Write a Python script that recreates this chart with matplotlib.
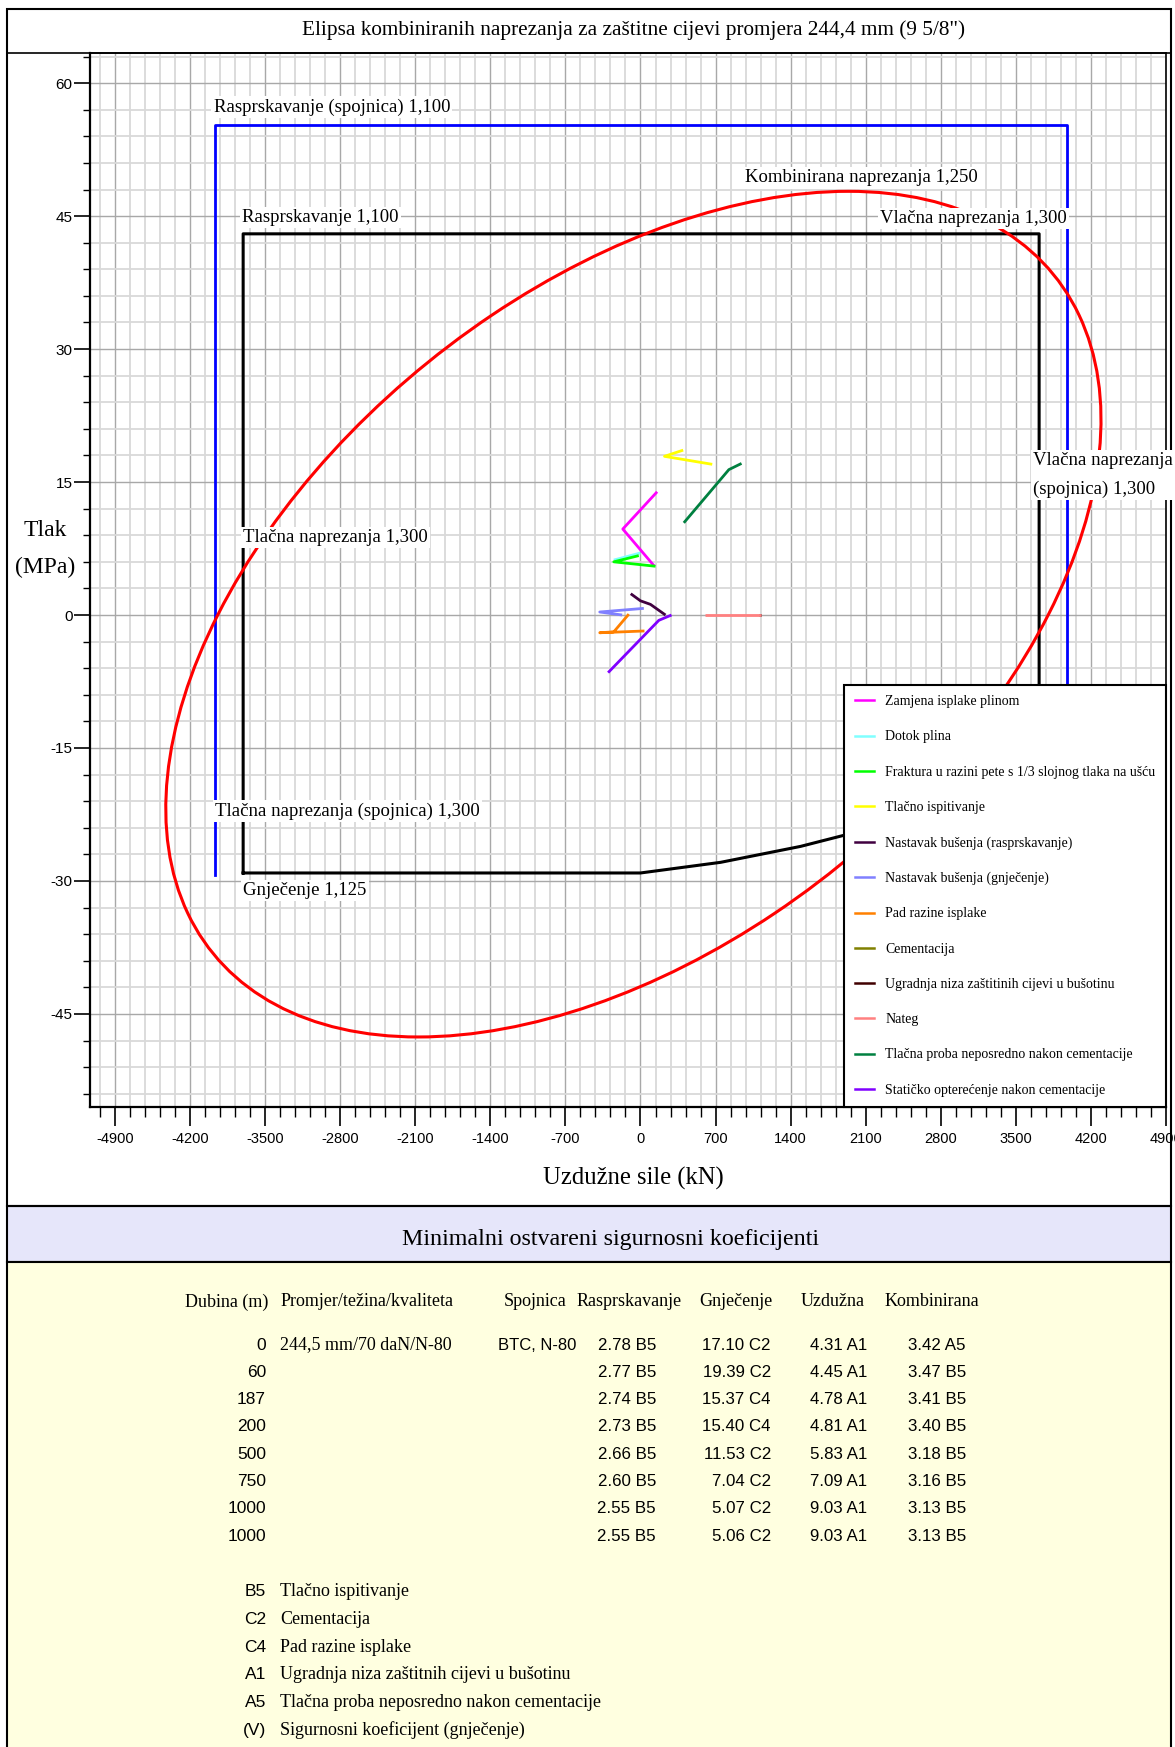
import numpy as np
import matplotlib
matplotlib.use("Agg")
import matplotlib.pyplot as plt
from matplotlib.patches import Rectangle, Circle
from matplotlib.lines import Line2D
from matplotlib.transforms import Affine2D
from matplotlib.ticker import MultipleLocator

SERIF = ["Liberation Serif", "DejaVu Serif"]
SANS = ["Liberation Sans", "DejaVu Sans"]
plt.rcParams["font.family"] = SANS

W, H = 1175, 1747

# ---- chart data (kN, MPa) ----
x_ticks = [-4900, -4200, -3500, -2800, -2100, -1400, -700, 0, 700, 1400, 2100, 2800, 3500, 4200, 4900]
y_ticks = [-45, -30, -15, 0, 15, 30, 45, 60]

# burst / tension limits of the coupling (blue)
coupling_kn = [-3967, -3967, 3973, 3973]
coupling_mpa = [-29.3, 55.3, 55.3, -29.3]

# pipe body limits (black): burst, tension, collapse
pipe_kn = [-3705, -3705, 3717, 3717, 3100, 2500, 1913, 1493, 747, 0, -3705]
pipe_mpa = [-29.1, 43.0, 43.0, -15.5, -19.3, -22.3, -24.8, -26.1, -27.9, -29.1, -29.1]

# points (an ellipse is fitted through them)
ellipse_kn = [4284, 4262, 4216, 3964, 3715, 3305, 2575, 1862, 1221, 509, 10, 93, -560, -716, -1223,
              -3173, -3360, -3733, -3967, -4231, -4387, -4449, -4418, -4293,
              -2924, -2240, -2053, 1338, 1773, 1913, 3469, 3484, 3717, 3864, 3982, 4107, 4200]
ellipse_mpa = [20.9, 24.2, 26.5, 35.9, 39.3, 43.0, 46.8, 47.5, 47.0, 45.3, 43.0, 43.6, 40.0, 39.1, 35.9,
               13.9, 10.3, 3.2, -2.45, -9.2, -15.6, -22.8, -28.8, -34.0,
               -46.8, -47.55, -47.4, -32.1, -28.4, -26.9, -7.3, -7.1, -2.8, 0.0, 3.2, 7.7, 11.5]

load_labels = [
    "Zamjena isplake plinom",
    "Dotok plina",
    "Fraktura u razini pete s 1/3 slojnog tlaka na ušću",
    "Tlačno ispitivanje",
    "Nastavak bušenja (rasprskavanje)",
    "Nastavak bušenja (gnječenje)",
    "Pad razine isplake",
    "Cementacija",
    "Ugradnja niza zaštitinih cijevi u bušotinu",
    "Nateg",
    "Tlačna proba neposredno nakon cementacije",
    "Statičko opterećenje nakon cementacije",
]
load_kn = [
    [155, -165, 130],
    [-249, -1],
    [140, -249, -16],
    [669, 224, 398],
    [-91, 0, 93, 233],
    [31, -380, -171],
    [37, -380, -249, -109],
    [],
    [1104, 1120],
    [597, 1120],
    [404, 824, 942],
    [-302, 171, 289],
]
load_mpa = [
    [13.9, 9.7, 5.5],
    [6.2, 7.0],
    [5.5, 6.0, 6.7],
    [17.0, 17.9, 18.6],
    [2.4, 1.6, 1.2, 0.0],
    [0.75, 0.34, 0.0],
    [-1.8, -2.0, -1.9, 0.1],
    [],
    [0.0, 0.0],
    [0.0, 0.0],
    [10.4, 16.4, 17.1],
    [-6.5, -0.6, 0.0],
]
load_colors = ["#ff00ff", "#80ffff", "#00ff00", "#ffff00", "#400040", "#8080ff",
               "#ff8000", "#808000", "#400000", "#ff8080", "#008040", "#8000ff"]

chart_labels = [
    "Rasprskavanje (spojnica) 1,100",
    "Rasprskavanje 1,100",
    "Kombinirana naprezanja 1,250",
    "Vlačna naprezanja 1,300",
    "Vlačna naprezanja\n(spojnica) 1,300",
    "Tlačna naprezanja 1,300",
    "Tlačna naprezanja (spojnica) 1,300",
    "Gnječenje 1,125",
]
chart_label_kn = [-3981, -3715, 976, 2231, 3659, -3705, -3967, -3705]
chart_label_mpa = [57.3, 44.8, 49.3, 44.7, 15.8, 8.7, -22.1, -31.1]

# ---- safety factor table ----
depths = [0, 60, 187, 200, 500, 750, 1000, 1000]
burst_sf = [2.78, 2.77, 2.74, 2.73, 2.66, 2.60, 2.55, 2.55]
burst_case = ["B5"] * 8
collapse_sf = [17.10, 19.39, 15.37, 15.40, 11.53, 7.04, 5.07, 5.06]
collapse_case = ["C2", "C2", "C4", "C4", "C2", "C2", "C2", "C2"]
axial_sf = [4.31, 4.45, 4.78, 4.81, 5.83, 7.09, 9.03, 9.03]
axial_case = ["A1"] * 8
combined_sf = [3.42, 3.47, 3.41, 3.40, 3.18, 3.16, 3.13, 3.13]
combined_case = ["A5", "B5", "B5", "B5", "B5", "B5", "B5", "B5"]
pipe_desc = "244,5 mm/70 daN/N-80"
coupling_desc = "BTC, N-80"

case_codes = ["B5", "C2", "C4", "A1", "A5", "(V)"]
case_names = [
    "Tlačno ispitivanje",
    "Cementacija",
    "Pad razine isplake",
    "Ugradnja niza zaštitnih cijevi u bušotinu",
    "Tlačna proba neposredno nakon cementacije",
    "Sigurnosni koeficijent (gnječenje)",
]


def fx(px):
    return px / W


def fy(py):
    return 1 - py / H


def ellipse_transform(kn, mpa):
    """Least squares conic through the read points, as an affine map of the unit circle."""
    u = np.asarray(kn) / 1000.0
    v = np.asarray(mpa) / 10.0
    design = np.column_stack([u * u, u * v, v * v, u, v])
    a, b, c, d, e = np.linalg.lstsq(design, np.ones_like(u), rcond=None)[0]
    u0, v0 = np.linalg.solve([[2 * a, b], [b, 2 * c]], [-d, -e])
    k = 1 - (a * u0 * u0 + b * u0 * v0 + c * v0 * v0 + d * u0 + e * v0)
    low = np.linalg.cholesky(np.array([[a, b / 2], [b / 2, c]]) / k)
    t = np.linalg.inv(low.T)
    return Affine2D(np.array([[1000 * t[0, 0], 1000 * t[0, 1], 1000 * u0],
                              [10 * t[1, 0], 10 * t[1, 1], 10 * v0],
                              [0, 0, 1]]))


fig = plt.figure(figsize=(W / 100, H / 100), dpi=100)

# panel backgrounds and frame
fig.add_artist(Rectangle((fx(7), fy(1262)), fx(1171) - fx(7), fy(1206) - fy(1262),
                         transform=fig.transFigure, fc="#e6e6fa", ec="black", lw=1.5, zorder=0))
fig.add_artist(Rectangle((fx(7), fy(1760)), fx(1171) - fx(7), fy(1262) - fy(1760),
                         transform=fig.transFigure, fc="#ffffe0", ec="black", lw=1.5, zorder=0))
fig.add_artist(Rectangle((fx(7), fy(1206)), fx(1171) - fx(7), fy(9) - fy(1206),
                         transform=fig.transFigure, fc="none", ec="black", lw=1.5, zorder=0))
fig.add_artist(Line2D([fx(7), fx(1171)], [fy(53), fy(53)], transform=fig.transFigure,
                      color="black", lw=1.2))

ax = fig.add_axes([fx(90), fy(1107), fx(1166) - fx(90), fy(53) - fy(1107)])
ax.set_xlim(-5133, 4900)
ax.set_ylim(-55.5, 63.4)
ax.set_xticks(x_ticks, labels=[str(t) for t in x_ticks])
ax.set_yticks(y_ticks, labels=[str(t) for t in y_ticks])
ax.xaxis.set_minor_locator(MultipleLocator(140))
ax.yaxis.set_minor_locator(MultipleLocator(3))
ax.grid(which="minor", color="#d9d9d9", lw=1.3)
ax.grid(which="major", color="#a8a8a8", lw=1.0)
ax.set_axisbelow(True)
ax.tick_params(axis="x", which="major", direction="out", length=14, width=1.2, pad=4, labelsize=10.5)
ax.tick_params(axis="x", which="minor", direction="out", length=7, width=1.0)
ax.tick_params(axis="y", which="major", direction="out", length=11.5, width=1.2, pad=1, labelsize=11)
ax.tick_params(axis="y", which="minor", direction="out", length=5, width=1.0)
for side in ["left", "bottom"]:
    ax.spines[side].set_linewidth(1.6)
for side in ["top", "right"]:
    ax.spines[side].set_linewidth(1.2)

ax.plot(coupling_kn, coupling_mpa, color="#0000ff", lw=2.0, zorder=2)
ax.plot(pipe_kn, pipe_mpa, color="black", lw=2.2, zorder=2)

ring = Circle((0, 0), 1, fill=False, ec="#ff0000", lw=2.2, zorder=3)
ring.set_transform(ellipse_transform(ellipse_kn, ellipse_mpa) + ax.transData)
ax.add_patch(ring)

for xs, ys, c in zip(load_kn, load_mpa, load_colors):
    ax.plot(xs, ys, color=c, lw=2.0, solid_capstyle="butt", zorder=3)

for txt, x, y in zip(chart_labels, chart_label_kn, chart_label_mpa):
    ax.text(x, y, txt, ha="left", va="center", family=SERIF, size=13.5, linespacing=1.85,
            bbox=dict(fc="white", ec="none", pad=1.5), zorder=4, clip_on=False)

handles = [Line2D([], [], color=c, lw=1.8) for c in load_colors]
leg = ax.legend(handles, load_labels, loc="lower right", borderaxespad=0, fancybox=False,
                edgecolor="black", framealpha=1, prop={"family": SERIF, "size": 10},
                handlelength=1.4, handletextpad=0.8, labelspacing=1.6, borderpad=0.75)
leg.get_frame().set_linewidth(1.5)
leg.set_zorder(10)

# titles and axis names
fig.text(fx(633), fy(30), "Elipsa kombiniranih naprezanja za zaštitne cijevi promjera 244,4 mm (9 5/8\")",
         ha="center", va="center", family=SERIF, size=15.3)
fig.text(fx(45), fy(549), "Tlak\n(MPa)", ha="center", va="center", family=SERIF, size=17, linespacing=1.95)
fig.text(fx(633), fy(1178), "Uzdužne sile (kN)", ha="center", va="center", family=SERIF, size=17.7)
fig.text(fx(610), fy(1240), "Minimalni ostvareni sigurnosni koeficijenti", ha="center", va="center",
         family=SERIF, size=17.3)

# table
head_y = fy(1302)
fig.text(fx(268), head_y, "Dubina (m)", ha="right", va="center", family=SERIF, size=13)
for txt, x in zip(["Promjer/težina/kvaliteta", "Spojnica", "Rasprskavanje", "Gnječenje", "Uzdužna", "Kombinirana"],
                  [281, 504, 577, 699, 801, 885]):
    fig.text(fx(x), head_y, txt, ha="left", va="center", family=SERIF, size=13)

cols = [(burst_sf, burst_case, 656), (collapse_sf, collapse_case, 771),
        (axial_sf, axial_case, 867), (combined_sf, combined_case, 966)]
for i, d in enumerate(depths):
    y = fy(1345 + i * 27.3)
    fig.text(fx(266), y, str(d), ha="right", va="center", size=12.5)
    if i == 0:
        fig.text(fx(280), y, pipe_desc, ha="left", va="center", family=SERIF, size=13)
        fig.text(fx(498), y, coupling_desc, ha="left", va="center", size=12)
    for vals, cases, right in cols:
        fig.text(fx(right), y, f"{vals[i]:.2f} {cases[i]}", ha="right", va="center", size=12.2)

for i, (code, name) in enumerate(zip(case_codes, case_names)):
    y = fy(1592 + i * 27.6)
    fig.text(fx(266), y, code, ha="right", va="center", size=12.5)
    fig.text(fx(280), y, name, ha="left", va="center", family=SERIF, size=13)

fig.savefig("out.png", dpi=100)
